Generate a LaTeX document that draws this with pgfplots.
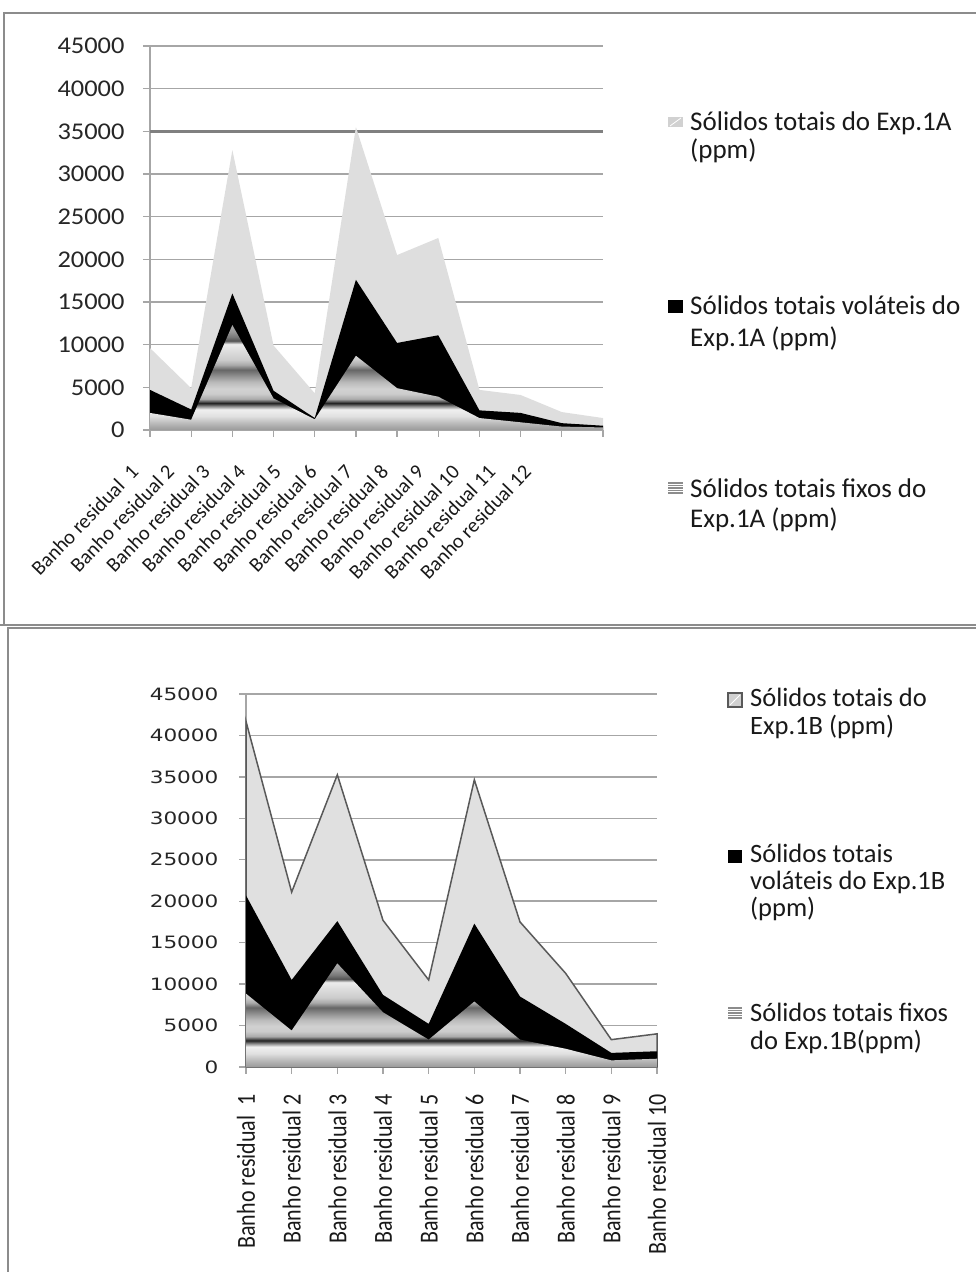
\documentclass[border=0pt]{standalone}
\usepackage{pgfplots}
\pgfplotsset{compat=1.18}
\usepackage{pgfplotstable}
\usepackage{fontspec}
\setmainfont{Carlito}
\newfontfamily\tickA[FakeStretch=1.1]{Carlito}
\newfontfamily\tickB[FakeStretch=1.27]{DejaVu Sans}

\pgfdeclareverticalshading{fixedshade}{100bp}{%
color(0bp)=(black!40); color(25bp)=(black!40); color(28.3bp)=(black!27);
color(31.6bp)=(black!12); color(34.8bp)=(black!6); color(36.4bp)=(black!47);
color(37.8bp)=(black!87); color(39.8bp)=(black!33); color(42.3bp)=(black!20);
color(44.7bp)=(black!18); color(47.8bp)=(black!27); color(51.4bp)=(black!47);
color(53.7bp)=(black!60); color(56.1bp)=(black!33); color(58.5bp)=(black!20);
color(62.8bp)=(black!13); color(65.9bp)=(black!7); color(67.5bp)=(black!67);
color(69.3bp)=(black!53); color(71.9bp)=(black!40); color(75bp)=(black!33);
color(100bp)=(black!33)}

\pgfplotstableread{
x total vol fix
0 9600 4700 2000
1 4900 2400 1200
2 32800 16000 12300
3 9900 4600 3700
4 4300 1400 1250
5 35500 17600 8700
6 20500 10200 4900
7 22500 11100 3900
8 4700 2300 1400
9 4100 2000 900
10 2100 800 400
11 1400 500 300
}\dataA

\pgfplotstableread{
x total vol fix
0 41700 20700 8850
1 21100 10500 4400
2 35250 17600 12500
3 17700 8700 6600
4 10500 5200 3300
5 34650 17300 7900
6 17500 8500 3300
7 11300 5200 2200
8 3300 1700 800
9 4000 1900 1000
}\dataB

\pgfplotsset{
  common/.style={
    scale only axis,
    axis lines*=left,
    axis line style={black!35, line width=1.5pt},
    ymin=0, ymax=45000,
    ytick={0,5000,...,45000},
    scaled y ticks=false,
    ymajorgrids,
    grid style={black!35, line width=1.5pt},
    tick align=outside,
    major tick length=7pt,
    tick style={black!35, line width=1.3pt},
    clip=false,
  }
}
\newcommand{\bl}[1]{\scalebox{1}[1.18]{#1}}

\begin{document}
\begin{tikzpicture}
\path[use as bounding box] (0pt,0pt) rectangle (976pt,1272pt);
% frames
\draw[black!45, line width=2pt] (4pt,647pt) -- (4pt,1259pt) -- (980pt,1259pt);
\draw[black!45, line width=2pt] (0pt,647pt) -- (980pt,647pt);
\draw[black!45, line width=2pt] (8pt,-5pt) -- (8pt,644pt) -- (980pt,644pt);

% ---------- top chart ----------
\begin{axis}[common,
  at={(150pt,842pt)}, anchor=south west,
  width=453pt, height=384pt,
  xmin=0, xmax=11,
  xtick={0,...,11}, xticklabels={},
  extra y ticks={35000}, extra y tick labels={},
  extra y tick style={grid style={black!50, line width=2.6pt}},
  yticklabel style={font=\tickA\fontsize{24}{24}\selectfont, text=black!85, xshift=-15pt,
    /pgf/number format/.cd, fixed, 1000 sep={}, assume math mode=true},
  extra x ticks={0,0.867,1.734,2.601,3.468,4.335,5.202,6.069,6.936,7.803,8.670,9.537},
  extra x tick labels={Banho residual\ \ 1,Banho residual 2,Banho residual 3,Banho residual 4,Banho residual 5,Banho residual 6,Banho residual 7,Banho residual 8,Banho residual 9,Banho residual 10,Banho residual 11,Banho residual 12},
  extra x tick style={major tick length=0pt, tick style={draw=none},
    xticklabel style={font=\fontsize{20.5}{20.5}\selectfont, xshift=-13pt, yshift=-36pt, rotate=46, anchor=east, text=black!90}},
]
\addplot[draw=none, fill=black!13] table[x=x,y=total]{\dataA} \closedcycle;
\addplot[draw=none, fill=black] table[x=x,y=vol]{\dataA} \closedcycle;
\addplot[draw=none, shade, shading=fixedshade] table[x=x,y=fix]{\dataA} \closedcycle;
\end{axis}

% ---------- bottom chart ----------
\begin{axis}[common,
  at={(246pt,205pt)}, anchor=south west,
  width=411pt, height=373pt,
  xmin=0, xmax=9, xtick={0,...,9},
  yticklabel style={font=\tickB\fontsize{17}{17}\selectfont, text=black!85, xshift=-17pt,
    /pgf/number format/.cd, fixed, 1000 sep={}, assume math mode=true},
  xticklabels={\bl{Banho residual\ \ 1},\bl{Banho residual 2},\bl{Banho residual 3},\bl{Banho residual 4},\bl{Banho residual 5},\bl{Banho residual 6},\bl{Banho residual 7},\bl{Banho residual 8},\bl{Banho residual 9},\bl{Banho residual 10}},
  xticklabel style={font=\fontsize{22}{22}\selectfont, yshift=-17pt, rotate=90, anchor=east, text=black!90},
]
\addplot[draw=black!65, line width=1.5pt, fill=black!12] table[x=x,y=total]{\dataB} \closedcycle;
\addplot[draw=none, fill=black] table[x=x,y=vol]{\dataB} \closedcycle;
\addplot[draw=none, shade, shading=fixedshade] table[x=x,y=fix]{\dataB} \closedcycle;
\end{axis}

% ---------- legends ----------
\begin{scope}[every node/.style={font=\fontsize{27}{29}\selectfont, text=black!90, inner sep=0pt, anchor=base west}]
% top legend
\fill[black!18] (668pt,1145pt) rectangle (683pt,1155pt);
\draw[white, line width=0.8pt] (670pt,1146pt) -- (681pt,1154pt);
\node at (690pt,1141pt) {Sólidos totais do Exp.1A};
\node at (690pt,1113pt) {(ppm)};
\fill[black] (668pt,959pt) rectangle (683pt,972pt);
\node at (690pt,957pt) {Sólidos totais voláteis do};
\node at (690pt,925pt) {Exp.1A (ppm)};
\foreach \yy in {779,781.5,784,786.5,789} \draw[black!45, line width=1.2pt] (668pt,\yy pt) -- (683pt,\yy pt);
\node at (690pt,774pt) {Sólidos totais fixos do};
\node at (690pt,744pt) {Exp.1A (ppm)};
\end{scope}
\begin{scope}[every node/.style={font=\fontsize{26.5}{29}\selectfont, text=black!90, inner sep=0pt, anchor=base west}]
% bottom legend
\fill[black!18] (728pt,565pt) rectangle (742pt,579pt);
\draw[white, line width=0.8pt] (730pt,567pt) -- (740pt,577pt);
\draw[black!65, line width=1.2pt] (728pt,565pt) rectangle (742pt,579pt);
\node at (750pt,565pt) {Sólidos totais do};
\node at (750pt,537pt) {Exp.1B (ppm)};
\fill[black] (728pt,409pt) rectangle (742pt,422pt);
\node at (750pt,409pt) {Sólidos totais};
\node at (750pt,382pt) {voláteis do Exp.1B};
\node at (750pt,355pt) {(ppm)};
\foreach \yy in {254,256.5,259,261.5,264} \draw[black!45, line width=1.2pt] (728pt,\yy pt) -- (742pt,\yy pt);
\node at (750pt,250pt) {Sólidos totais fixos};
\node at (750pt,222pt) {do Exp.1B(ppm)};
\end{scope}
\end{tikzpicture}
\end{document}
